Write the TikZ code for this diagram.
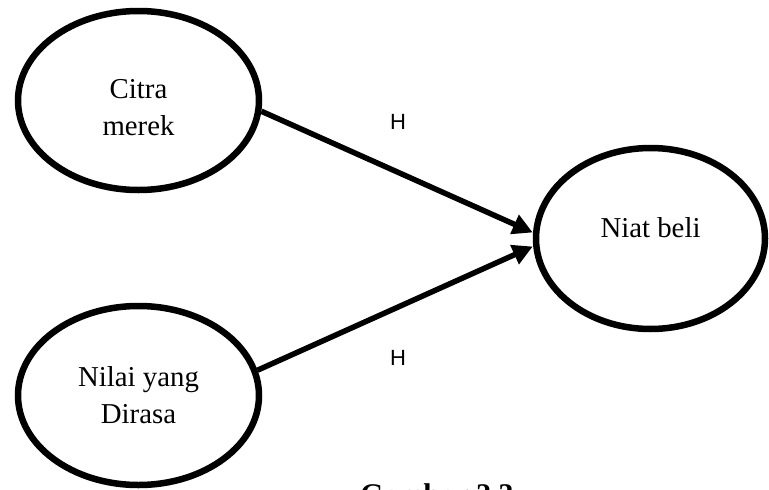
\documentclass[tikz,border=0pt]{standalone}
\usepackage{fontspec}
\setmainfont{Liberation Serif}
\newfontfamily\hsans{Liberation Sans}
\usetikzlibrary{shapes.geometric,arrows.meta}
\begin{document}
\begin{tikzpicture}[x=1pt,y=-1pt,
  var/.style={draw=black,line width=6.5pt,ellipse,inner sep=0pt},
  lbl/.style={align=center,inner sep=0pt,font=\fontsize{28.8}{37}\selectfont},
  hyp/.style={inner sep=0pt,font=\hsans\fontsize{22}{26}\selectfont},
  path/.style={line width=5.5pt,-{Triangle[length=20pt,width=20pt]}}]
\clip (0,0) rectangle (769,490);
\fill[white] (0,0) rectangle (769,490);
\node[var,minimum width=241pt,minimum height=179pt] (e1) at (138.5,100.5) {};
\node[var,minimum width=241pt,minimum height=179pt] (e2) at (138.5,395.5) {};
\node[var,minimum width=229pt,minimum height=181pt] (e3) at (650.5,238.5) {};
\node[lbl] (t1) at (138.5,108) {Citra\\merek};
\node[lbl] (t2) at (138.5,395) {Nilai yang\\Dirasa};
\node[lbl] (t3) at (650.5,228) {Niat beli};
\draw[path] (e1.-5) -- ([yshift=6pt]e3.west);
\draw[path] (e2.12) -- ([yshift=-8pt]e3.west);
\node[hyp] (h1) at (398,122) {H};
\node[hyp] (h2) at (398,358) {H};
\node[inner sep=0pt,anchor=north,font=\bfseries\fontsize{30}{36}\selectfont] (cap) at (437,483) {Gambar 2.3};
\end{tikzpicture}
\end{document}
